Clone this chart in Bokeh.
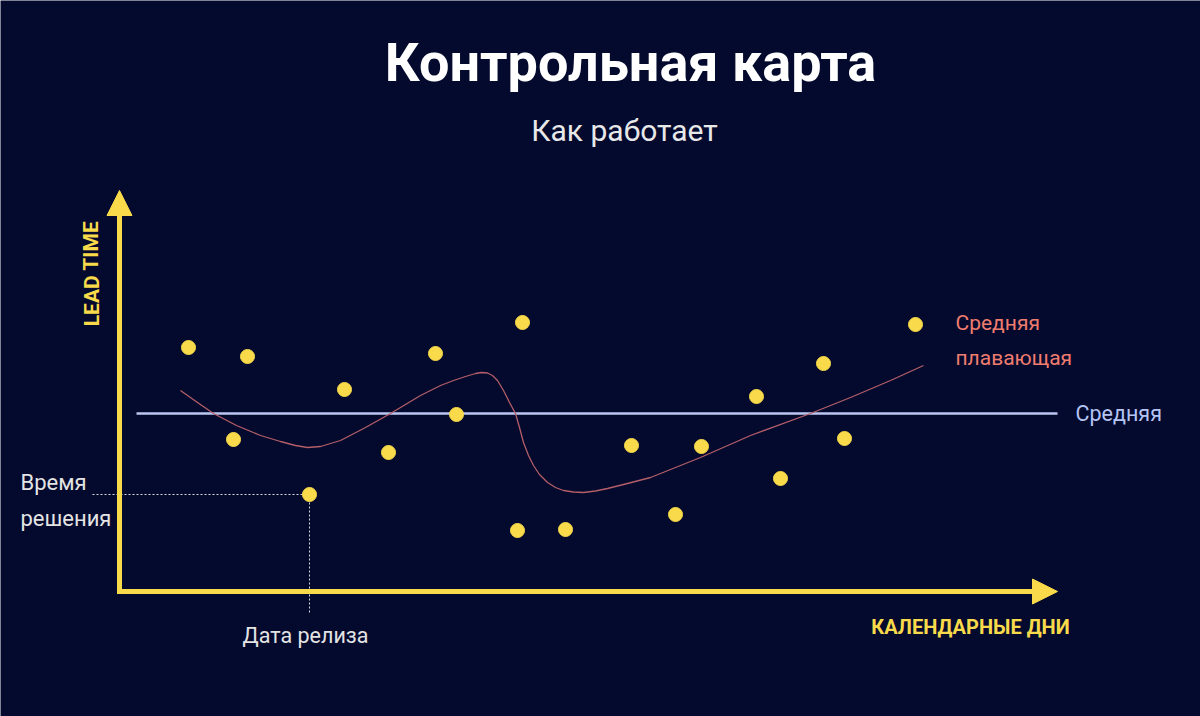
from bokeh.plotting import figure
from bokeh.models import ColumnDataSource, Range1d, Arrow, NormalHead, Label
from bokeh.embed import file_html
from bokeh.resources import INLINE

# ---- data (x = calendar days, y = lead time) ----
days = [6.9, 11.4, 12.8, 19.0, 22.5, 26.9, 31.6, 33.7, 39.8, 40.3,
        44.6, 51.2, 55.6, 58.2, 63.7, 66.1, 70.4, 72.5, 79.6]
lead_time = [24.4, 15.2, 23.5, 9.7, 20.2, 13.9, 23.8, 17.7, 6.1, 26.9,
             6.2, 14.6, 7.7, 14.5, 19.5, 11.3, 22.8, 15.3, 26.7]
release_index = 3

mean_value = 17.8
mean_x = [1.7, 93.8]

ma_x = [6.1, 7.8, 9.4, 11.7, 14.1, 16.1, 17.6, 18.8, 20.1, 22.1, 24.6, 27.1,
        30.1, 32.1, 33.4, 34.6, 35.6, 36.2, 36.8, 37.3, 37.8, 38.4, 39.0, 39.6, 40.0,
        40.4, 40.9, 41.4, 42.0, 42.8, 43.6, 44.4, 45.4, 46.4, 47.6, 48.8, 50.8,
        53.1, 58.1, 63.1, 69.1, 73.1, 77.1, 80.4]
ma_y = [20.1, 18.9, 17.8, 16.6, 15.6, 15.0, 14.6, 14.4, 14.5, 15.1, 16.4, 17.8,
        19.6, 20.6, 21.1, 21.5, 21.8, 21.9, 21.85, 21.6, 21.1, 20.1, 18.9, 17.8, 16.4,
        14.9, 13.6, 12.6, 11.7, 10.9, 10.4, 10.1, 9.95, 9.9, 10.05, 10.3, 10.8,
        11.4, 13.4, 15.6, 17.8, 19.4, 21.1, 22.6]

title = "Контрольная карта"
subtitle = "Как работает"
x_label = "КАЛЕНДАРНЫЕ ДНИ"
y_label = "LEAD TIME"

# ---- style ----
BG = "#030A2E"
YELLOW = "#F9DA4A"
MEAN_C = "#BCC8F2"
MA_C = "#B45E68"
MA_TXT = "#F07C6E"
MEAN_TXT = "#B4C4F4"
GREY = "#E4E4E4"

p = figure(width=1200, height=716, output_backend="svg", toolbar_location=None,
           x_range=Range1d(-11.9, 108.1), y_range=Range1d(-12.5, 59.1),
           x_axis_type=None, y_axis_type=None, min_border=0,
           background_fill_color=BG, border_fill_color=BG, outline_line_color=None)

# axes with arrowheads
p.add_layout(Arrow(end=NormalHead(size=25, fill_color=YELLOW, line_color=YELLOW, line_width=1),
                   x_start=0, y_start=-0.25, x_end=0, y_end=40.1,
                   line_color=YELLOW, line_width=5))
p.add_layout(Arrow(end=NormalHead(size=25, fill_color=YELLOW, line_color=YELLOW, line_width=1),
                   x_start=-0.25, y_start=0, x_end=93.8, y_end=0,
                   line_color=YELLOW, line_width=5))

# release date guide lines
rx, ry = days[release_index], lead_time[release_index]
p.line([-2.7, rx], [ry, ry], line_color="#D8D8D8", line_width=1, line_dash="2 2")
p.line([rx, rx], [ry, -2.2], line_color="#D8D8D8", line_width=1, line_dash="2 2")

# mean line
p.line(mean_x, [mean_value, mean_value], line_color=MEAN_C, line_width=2.5)

# moving average
p.line(ma_x, ma_y, line_color=MA_C, line_width=1.3, line_join="round")

# points
src = ColumnDataSource(dict(x=days, y=lead_time))
p.scatter("x", "y", source=src, size=14, fill_color=YELLOW, line_color=YELLOW)

def lab(text, x, y, size, color, align="left", style="normal", angle=0, baseline="middle"):
    p.add_layout(Label(x=x, y=y, text=text, text_font="Roboto", text_font_size=size,
                       text_color=color, text_align=align, text_baseline=baseline,
                       text_font_style=style, angle=angle))

lab(title, 51.1, 52.9, "54px", "#FFFFFF", align="center", style="bold")
lab(subtitle, 50.5, 46.1, "30px", "#E8E8E8", align="center")
lab(y_label, -2.8, 31.8, "21px", YELLOW, align="center", style="bold", angle=1.5708)
lab(x_label, 85.1, -3.5, "20px", YELLOW, align="center", style="bold")
lab("Время", -9.9, 10.9, "22px", GREY)
lab("решения", -9.9, 7.3, "22px", GREY)
lab("Дата релиза", rx - 0.4, -4.4, "21.5px", GREY, align="center")
lab("Средняя", 83.6, 26.9, "21px", MA_TXT)
lab("плавающая", 83.6, 23.4, "21px", MA_TXT)
lab("Средняя", 95.6, 17.8, "21.5px", MEAN_TXT)

open("out.html", "w").write(file_html(p, INLINE))
